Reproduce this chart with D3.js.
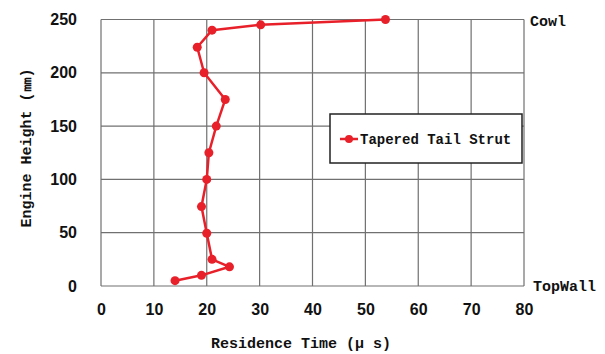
<!DOCTYPE html>
<html>
<head>
<meta charset="utf-8">
<script src="https://cdn.jsdelivr.net/npm/d3@7"></script>
<style>
  body { margin: 0; background: #fff; }
  text { font-family: "Liberation Mono", "DejaVu Sans Mono", monospace; font-weight: bold; fill: #111; }
  .tick text { font-family: "Liberation Sans", Arial, sans-serif; font-size: 16px; }
</style>
</head>
<body>
<div id="chart"></div>
<script>
// data
const residenceTime = [53.8, 30.2, 21, 18.2, 19.5, 23.5, 21.8, 20.4, 20, 19, 20, 21, 24.3, 19, 14];
const engineHeight  = [250, 245, 240, 224, 200, 175, 150, 125, 100, 74.5, 49.5, 25, 18, 10, 5];
const xTicks = [0, 10, 20, 30, 40, 50, 60, 70, 80];
const yTicks = [0, 50, 100, 150, 200, 250];
const seriesName = 'Tapered Tail Strut';

const W = 605, H = 354;
const margin = { top: 19.5, right: 81, bottom: 68, left: 101 };
const width = W - margin.left - margin.right;
const height = H - margin.top - margin.bottom;
const red = '#e8202a';

const svg = d3.select('#chart').append('svg')
  .attr('width', W)
  .attr('height', H);

const g = svg.append('g')
  .attr('transform', `translate(${margin.left},${margin.top})`);

const x = d3.scaleLinear().domain([0, 80]).range([0, width]);
const y = d3.scaleLinear().domain([0, 250]).range([height, 0]);

// rejilla
g.append('g').selectAll('line.vx')
  .data(xTicks)
  .enter().append('line')
  .attr('x1', d => x(d)).attr('x2', d => x(d))
  .attr('y1', 0).attr('y2', height)
  .attr('stroke', '#707070').attr('stroke-width', 1.2);

g.append('g').selectAll('line.hy')
  .data(yTicks)
  .enter().append('line')
  .attr('x1', 0).attr('x2', width)
  .attr('y1', d => y(d)).attr('y2', d => y(d))
  .attr('stroke', '#707070').attr('stroke-width', 1.2);

// ejes
const xAxis = g.append('g')
  .attr('transform', `translate(0,${height})`)
  .call(d3.axisBottom(x).tickValues(xTicks).tickSize(0).tickPadding(18));
xAxis.select('.domain').remove();

const yAxis = g.append('g')
  .call(d3.axisLeft(y).tickValues(yTicks).tickSize(0).tickPadding(24));
yAxis.select('.domain').remove();

// titulos de ejes
svg.append('text')
  .attr('x', 301)
  .attr('y', 348)
  .attr('text-anchor', 'middle')
  .attr('font-size', '15px')
  .text('Residence Time (μ s)');

svg.append('text')
  .attr('transform', 'rotate(-90)')
  .attr('x', -148)
  .attr('y', 31)
  .attr('text-anchor', 'middle')
  .attr('font-size', '15px')
  .text('Engine Height (㎜)');

// etiquetas laterales
svg.append('text')
  .attr('x', 530).attr('y', 26)
  .attr('font-size', '15px')
  .text('Cowl');
svg.append('text')
  .attr('x', 533).attr('y', 291)
  .attr('font-size', '15px')
  .text('TopWall');

// serie
const points = residenceTime.map((v, i) => [v, engineHeight[i]]);
const line = d3.line().x(d => x(d[0])).y(d => y(d[1]));

g.append('path')
  .datum(points)
  .attr('d', line)
  .attr('fill', 'none')
  .attr('stroke', red)
  .attr('stroke-width', 2.5)
  .attr('stroke-linejoin', 'round');

g.selectAll('.pt')
  .data(points)
  .enter().append('circle')
  .attr('cx', d => x(d[0]))
  .attr('cy', d => y(d[1]))
  .attr('r', 4.5)
  .attr('fill', red);

// leyenda
const legend = svg.append('g').attr('transform', 'translate(330,114)');
legend.append('rect')
  .attr('width', 192).attr('height', 49)
  .attr('fill', '#fff')
  .attr('stroke', '#222').attr('stroke-width', 1.5);
legend.append('line')
  .attr('x1', 10).attr('x2', 28)
  .attr('y1', 25).attr('y2', 25)
  .attr('stroke', red).attr('stroke-width', 2.5);
legend.append('circle')
  .attr('cx', 19).attr('cy', 25).attr('r', 4)
  .attr('fill', red);
legend.append('text')
  .attr('x', 30).attr('y', 30)
  .attr('font-size', '14px')
  .text(seriesName);
</script>
</body>
</html>
